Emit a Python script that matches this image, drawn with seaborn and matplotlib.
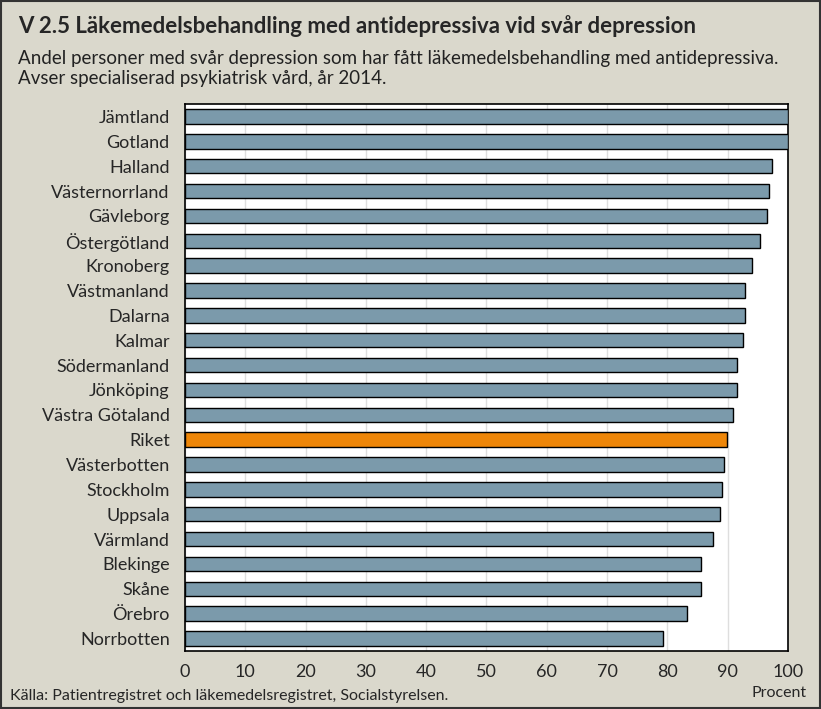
import pandas as pd
import matplotlib
matplotlib.use("Agg")
import matplotlib.pyplot as plt
import seaborn as sns

regions = ["Jämtland", "Gotland", "Halland", "Västernorrland", "Gävleborg",
           "Östergötland", "Kronoberg", "Västmanland", "Dalarna", "Kalmar",
           "Södermanland", "Jönköping", "Västra Götaland", "Riket", "Västerbotten",
           "Stockholm", "Uppsala", "Värmland", "Blekinge", "Skåne", "Örebro",
           "Norrbotten"]
values = [100, 100, 97.4, 96.8, 96.6, 95.4, 94.1, 92.9, 92.8, 92.6,
          91.6, 91.6, 90.9, 89.9, 89.4, 89.1, 88.8, 87.6, 85.6, 85.5, 83.3,
          79.2]
ticks = [0, 10, 20, 30, 40, 50, 60, 70, 80, 90, 100]

df = pd.DataFrame({"region": regions, "value": values})

bg = "#DAD8CC"
bar_color = "#7B9AAB"
riket_color = "#EE8608"
palette = {r: (riket_color if r == "Riket" else bar_color) for r in regions}

sns.set_style("white")
plt.rcParams["font.family"] = ["Lato", "DejaVu Sans"]

fig = plt.figure(figsize=(8.21, 7.09), dpi=100, facecolor=bg)
ax = fig.add_axes([0.2253, 0.0818, 0.7345, 0.7715])
ax.set_facecolor("white")

sns.barplot(data=df, y="region", x="value", hue="region", palette=palette,
            legend=False, width=0.58, edgecolor="black", linewidth=1.0,
            saturation=1, ax=ax, zorder=3)

ax.set_xlim(0, 100)
ax.set_xticks(ticks)
ax.set_xticklabels([str(t) for t in ticks], fontsize=13)
ax.grid(axis="x", color="#DEDEDE", linewidth=1, zorder=0)
ax.set_axisbelow(True)
ax.tick_params(axis="x", length=0, pad=9)
ax.tick_params(axis="y", length=0, pad=11, labelsize=13)
ax.set_xlabel("")
ax.set_ylabel("")
for s in ax.spines.values():
    s.set_color("black")
    s.set_linewidth(1.2)

fig.text(0.022, 0.964, "V 2.5 Läkemedelsbehandling med antidepressiva vid svår depression",
         fontsize=16, fontweight="bold", va="center")
fig.text(0.022, 0.918, "Andel personer med svår depression som har fått läkemedelsbehandling med antidepressiva.",
         fontsize=13.5, va="center", color="#222222")
fig.text(0.022, 0.889, "Avser specialiserad psykiatrisk vård, år 2014.",
         fontsize=13.5, va="center", color="#222222")
fig.text(0.012, 0.019, "Källa: Patientregistret och läkemedelsregistret, Socialstyrelsen.",
         fontsize=11.5, va="center")
fig.text(0.983, 0.023, "Procent", fontsize=11.5, va="center", ha="right")

fig.patches.append(plt.Rectangle((0.001, 0.001), 0.998, 0.998, transform=fig.transFigure,
                                 fill=False, edgecolor="#333333", linewidth=1.5))

fig.savefig("out.png", dpi=100, facecolor=bg)
